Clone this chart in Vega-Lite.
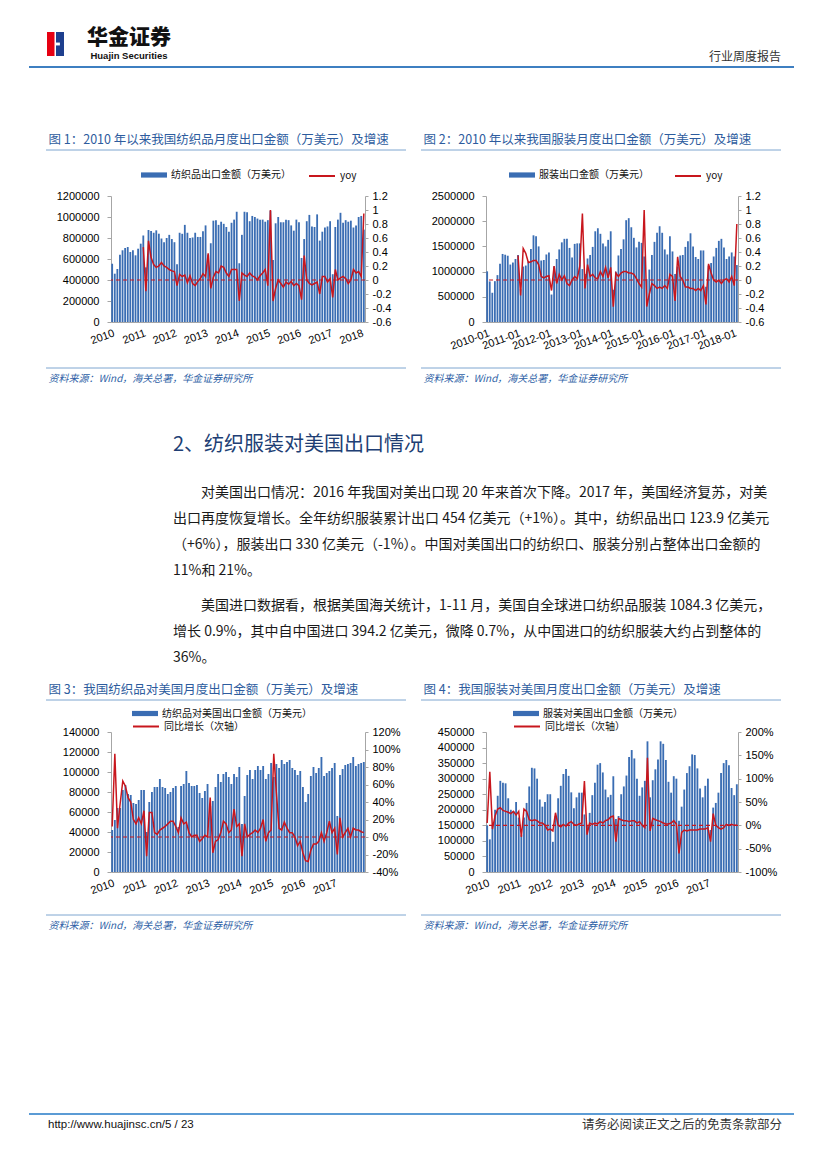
{
"$schema": "https://vega.github.io/schema/vega-lite/v6.json",
"background": "white",
"padding": {"left": 28, "top": 27, "right": 10, "bottom": 10},
"columns": 9,
"spacing": 0,
"bounds": "flush",
"align": "each",
"resolve": {"scale": {"fill": "independent", "stroke": "independent"}, "legend": {"fill": "independent", "stroke": "independent"}},
"datasets": {
"c1": [
{"m":"2010-01","v":555000,"r":null},{"m":"2010-02","v":460000,"r":null},{"m":"2010-03","v":505000,"r":null},{"m":"2010-04","v":641000,"r":null},{"m":"2010-05","v":683000,"r":null},{"m":"2010-06","v":705000,"r":null},{"m":"2010-07","v":714000,"r":null},{"m":"2010-08","v":667000,"r":null},{"m":"2010-09","v":683000,"r":null},{"m":"2010-10","v":635000,"r":null},{"m":"2010-11","v":698000,"r":null},{"m":"2010-12","v":746000,"r":null},
{"m":"2011-01","v":825000,"r":0.47},{"m":"2011-02","v":520000,"r":-0.16},{"m":"2011-03","v":876000,"r":0.56},{"m":"2011-04","v":867000,"r":0.32},{"m":"2011-05","v":850000,"r":0.22},{"m":"2011-06","v":873000,"r":0.18},{"m":"2011-07","v":841000,"r":0.2},{"m":"2011-08","v":795000,"r":0.25},{"m":"2011-09","v":760000,"r":0.2},{"m":"2011-10","v":800000,"r":0.18},{"m":"2011-11","v":830000,"r":0.15},{"m":"2011-12","v":790000,"r":0.13},
{"m":"2012-01","v":760000,"r":0.12},{"m":"2012-02","v":550000,"r":-0.08},{"m":"2012-03","v":850000,"r":0.08},{"m":"2012-04","v":840000,"r":0.05},{"m":"2012-05","v":925000,"r":0.07},{"m":"2012-06","v":850000,"r":-0.04},{"m":"2012-07","v":800000,"r":0.06},{"m":"2012-08","v":805000,"r":-0.05},{"m":"2012-09","v":850000,"r":-0.08},{"m":"2012-10","v":810000,"r":-0.02},{"m":"2012-11","v":810000,"r":0.02},{"m":"2012-12","v":865000,"r":0.09},
{"m":"2013-01","v":920000,"r":0.05},{"m":"2013-02","v":640000,"r":0.38},{"m":"2013-03","v":750000,"r":-0.12},{"m":"2013-04","v":965000,"r":0.04},{"m":"2013-05","v":970000,"r":0.12},{"m":"2013-06","v":925000,"r":0.1},{"m":"2013-07","v":955000,"r":0.2},{"m":"2013-08","v":935000,"r":0.18},{"m":"2013-09","v":905000,"r":0.1},{"m":"2013-10","v":860000,"r":0.05},{"m":"2013-11","v":945000,"r":0.15},{"m":"2013-12","v":975000,"r":0.15},
{"m":"2014-01","v":1050000,"r":0.15},{"m":"2014-02","v":560000,"r":-0.3},{"m":"2014-03","v":830000,"r":0.1},{"m":"2014-04","v":1050000,"r":0.07},{"m":"2014-05","v":1045000,"r":0.05},{"m":"2014-06","v":960000,"r":0.1},{"m":"2014-07","v":1010000,"r":0.06},{"m":"2014-08","v":1000000,"r":0.04},{"m":"2014-09","v":985000,"r":0.0},{"m":"2014-10","v":975000,"r":0.06},{"m":"2014-11","v":975000,"r":0.1},{"m":"2014-12","v":955000,"r":0.15},
{"m":"2015-01","v":970000,"r":-0.08},{"m":"2015-02","v":1060000,"r":1.0},{"m":"2015-03","v":590000,"r":-0.3},{"m":"2015-04","v":940000,"r":-0.12},{"m":"2015-05","v":1000000,"r":0.0},{"m":"2015-06","v":950000,"r":-0.05},{"m":"2015-07","v":950000,"r":-0.1},{"m":"2015-08","v":975000,"r":-0.03},{"m":"2015-09","v":970000,"r":-0.06},{"m":"2015-10","v":920000,"r":-0.02},{"m":"2015-11","v":870000,"r":-0.08},{"m":"2015-12","v":975000,"r":-0.05},
{"m":"2016-01","v":950000,"r":-0.08},{"m":"2016-02","v":610000,"r":-0.28},{"m":"2016-03","v":790000,"r":0.35},{"m":"2016-04","v":960000,"r":0.0},{"m":"2016-05","v":1020000,"r":-0.05},{"m":"2016-06","v":910000,"r":-0.07},{"m":"2016-07","v":905000,"r":-0.05},{"m":"2016-08","v":1025000,"r":-0.03},{"m":"2016-09","v":775000,"r":-0.2},{"m":"2016-10","v":860000,"r":0.05},{"m":"2016-11","v":900000,"r":0.05},{"m":"2016-12","v":910000,"r":-0.03},
{"m":"2017-01","v":960000,"r":0.02},{"m":"2017-02","v":455000,"r":-0.25},{"m":"2017-03","v":905000,"r":0.15},{"m":"2017-04","v":975000,"r":0.0},{"m":"2017-05","v":1040000,"r":0.03},{"m":"2017-06","v":945000,"r":0.05},{"m":"2017-07","v":970000,"r":0.02},{"m":"2017-08","v":955000,"r":-0.05},{"m":"2017-09","v":965000,"r":0.0},{"m":"2017-10","v":900000,"r":0.15},{"m":"2017-11","v":920000,"r":0.1},{"m":"2017-12","v":1000000,"r":0.12},
{"m":"2018-01","v":1010000,"r":0.05},{"m":"2018-02","v":880000,"r":0.95}
],
"c2": [
{"m":"2010-01","v":1005000,"r":null},{"m":"2010-02","v":805000,"r":null},{"m":"2010-03","v":580000,"r":null},{"m":"2010-04","v":810000,"r":null},{"m":"2010-05","v":930000,"r":null},{"m":"2010-06","v":1155000,"r":null},{"m":"2010-07","v":1350000,"r":null},{"m":"2010-08","v":1335000,"r":null},{"m":"2010-09","v":1315000,"r":null},{"m":"2010-10","v":1140000,"r":null},{"m":"2010-11","v":1180000,"r":null},{"m":"2010-12","v":1250000,"r":null},
{"m":"2011-01","v":1330000,"r":0.35},{"m":"2011-02","v":650000,"r":-0.22},{"m":"2011-03","v":1100000,"r":0.45},{"m":"2011-04","v":1120000,"r":0.38},{"m":"2011-05","v":1200000,"r":0.25},{"m":"2011-06","v":1450000,"r":0.26},{"m":"2011-07","v":1720000,"r":0.28},{"m":"2011-08","v":1700000,"r":0.28},{"m":"2011-09","v":1500000,"r":0.22},{"m":"2011-10","v":1220000,"r":0.05},{"m":"2011-11","v":1230000,"r":0.03},{"m":"2011-12","v":1340000,"r":0.05},
{"m":"2012-01","v":1380000,"r":0.06},{"m":"2012-02","v":545000,"r":-0.15},{"m":"2012-03","v":1100000,"r":0.2},{"m":"2012-04","v":1250000,"r":-0.05},{"m":"2012-05","v":1440000,"r":0.08},{"m":"2012-06","v":1580000,"r":0.0},{"m":"2012-07","v":1650000,"r":0.06},{"m":"2012-08","v":1650000,"r":-0.05},{"m":"2012-09","v":1470000,"r":-0.08},{"m":"2012-10","v":1280000,"r":0.0},{"m":"2012-11","v":1550000,"r":0.05},{"m":"2012-12","v":1560000,"r":0.02},
{"m":"2013-01","v":1560000,"r":0.2},{"m":"2013-02","v":1050000,"r":0.95},{"m":"2013-03","v":950000,"r":-0.12},{"m":"2013-04","v":1260000,"r":0.22},{"m":"2013-05","v":1330000,"r":0.05},{"m":"2013-06","v":1490000,"r":0.08},{"m":"2013-07","v":1800000,"r":0.03},{"m":"2013-08","v":1860000,"r":0.02},{"m":"2013-09","v":1750000,"r":0.12},{"m":"2013-10","v":1560000,"r":0.05},{"m":"2013-11","v":1500000,"r":0.18},{"m":"2013-12","v":1630000,"r":0.03},
{"m":"2014-01","v":1800000,"r":0.18},{"m":"2014-02","v":640000,"r":-0.38},{"m":"2014-03","v":1000000,"r":0.1},{"m":"2014-04","v":1320000,"r":0.05},{"m":"2014-05","v":1450000,"r":0.1},{"m":"2014-06","v":1640000,"r":0.12},{"m":"2014-07","v":2020000,"r":0.12},{"m":"2014-08","v":2060000,"r":0.1},{"m":"2014-09","v":1880000,"r":0.1},{"m":"2014-10","v":1670000,"r":0.08},{"m":"2014-11","v":1480000,"r":0.02},{"m":"2014-12","v":1590000,"r":-0.05},
{"m":"2015-01","v":1570000,"r":-0.1},{"m":"2015-02","v":1300000,"r":1.0},{"m":"2015-03","v":850000,"r":-0.38},{"m":"2015-04","v":1040000,"r":-0.2},{"m":"2015-05","v":1330000,"r":-0.05},{"m":"2015-06","v":1590000,"r":-0.08},{"m":"2015-07","v":1770000,"r":-0.12},{"m":"2015-08","v":1900000,"r":-0.1},{"m":"2015-09","v":1770000,"r":-0.12},{"m":"2015-10","v":1440000,"r":-0.08},{"m":"2015-11","v":1340000,"r":-0.12},{"m":"2015-12","v":1700000,"r":0.08},
{"m":"2016-01","v":1400000,"r":0.05},{"m":"2016-02","v":950000,"r":-0.3},{"m":"2016-03","v":1100000,"r":0.33},{"m":"2016-04","v":1320000,"r":0.05},{"m":"2016-05","v":1330000,"r":0.0},{"m":"2016-06","v":1490000,"r":-0.1},{"m":"2016-07","v":1600000,"r":-0.1},{"m":"2016-08","v":1760000,"r":-0.12},{"m":"2016-09","v":1500000,"r":-0.12},{"m":"2016-10","v":1290000,"r":-0.15},{"m":"2016-11","v":1250000,"r":-0.12},{"m":"2016-12","v":1420000,"r":-0.15},
{"m":"2017-01","v":1420000,"r":-0.08},{"m":"2017-02","v":700000,"r":-0.35},{"m":"2017-03","v":1120000,"r":0.23},{"m":"2017-04","v":1170000,"r":0.1},{"m":"2017-05","v":1300000,"r":0.0},{"m":"2017-06","v":1470000,"r":-0.03},{"m":"2017-07","v":1610000,"r":0.0},{"m":"2017-08","v":1650000,"r":-0.05},{"m":"2017-09","v":1480000,"r":0.0},{"m":"2017-10","v":1250000,"r":0.02},{"m":"2017-11","v":1300000,"r":-0.03},{"m":"2017-12","v":1380000,"r":0.05},
{"m":"2018-01","v":1300000,"r":-0.08},{"m":"2018-02","v":1130000,"r":0.8}
],
"c3": [
{"m":"2010-01","v":42000,"r":0.12},{"m":"2010-02","v":52000,"r":0.95},{"m":"2010-03","v":64000,"r":0.1},{"m":"2010-04","v":64000,"r":0.38},{"m":"2010-05","v":82000,"r":0.64},{"m":"2010-06","v":87000,"r":0.58},{"m":"2010-07","v":78000,"r":0.45},{"m":"2010-08","v":77000,"r":0.4},{"m":"2010-09","v":69000,"r":0.2},{"m":"2010-10","v":68000,"r":0.15},{"m":"2010-11","v":72000,"r":0.22},{"m":"2010-12","v":82000,"r":0.15},
{"m":"2011-01","v":82000,"r":0.3},{"m":"2011-02","v":40000,"r":-0.22},{"m":"2011-03","v":70000,"r":0.28},{"m":"2011-04","v":80000,"r":0.28},{"m":"2011-05","v":85000,"r":0.05},{"m":"2011-06","v":85000,"r":0.03},{"m":"2011-07","v":93000,"r":0.08},{"m":"2011-08","v":85000,"r":0.1},{"m":"2011-09","v":84000,"r":0.12},{"m":"2011-10","v":78000,"r":0.15},{"m":"2011-11","v":80000,"r":0.18},{"m":"2011-12","v":84000,"r":0.18},
{"m":"2012-01","v":86000,"r":0.12},{"m":"2012-02","v":45000,"r":0.05},{"m":"2012-03","v":86000,"r":0.22},{"m":"2012-04","v":88000,"r":0.15},{"m":"2012-05","v":101000,"r":0.17},{"m":"2012-06","v":89000,"r":0.05},{"m":"2012-07","v":86000,"r":0.0},{"m":"2012-08","v":86000,"r":0.02},{"m":"2012-09","v":87000,"r":0.02},{"m":"2012-10","v":79000,"r":-0.05},{"m":"2012-11","v":74000,"r":-0.02},{"m":"2012-12","v":81000,"r":0.02},
{"m":"2013-01","v":88000,"r":0.0},{"m":"2013-02","v":66000,"r":0.45},{"m":"2013-03","v":71000,"r":-0.18},{"m":"2013-04","v":85000,"r":-0.05},{"m":"2013-05","v":98000,"r":-0.03},{"m":"2013-06","v":90000,"r":0.05},{"m":"2013-07","v":98000,"r":0.18},{"m":"2013-08","v":100000,"r":0.15},{"m":"2013-09","v":95000,"r":0.05},{"m":"2013-10","v":88000,"r":0.08},{"m":"2013-11","v":98000,"r":0.32},{"m":"2013-12","v":95000,"r":0.12},
{"m":"2014-01","v":105000,"r":0.15},{"m":"2014-02","v":48000,"r":-0.22},{"m":"2014-03","v":76000,"r":0.15},{"m":"2014-04","v":97000,"r":0.0},{"m":"2014-05","v":102000,"r":0.03},{"m":"2014-06","v":93000,"r":0.05},{"m":"2014-07","v":102000,"r":0.08},{"m":"2014-08","v":106000,"r":0.05},{"m":"2014-09","v":102000,"r":0.1},{"m":"2014-10","v":106000,"r":0.2},{"m":"2014-11","v":93000,"r":-0.05},{"m":"2014-12","v":98000,"r":0.05},
{"m":"2015-01","v":109000,"r":0.08},{"m":"2015-02","v":95000,"r":0.95},{"m":"2015-03","v":108000,"r":0.5},{"m":"2015-04","v":104000,"r":0.1},{"m":"2015-05","v":112000,"r":0.08},{"m":"2015-06","v":108000,"r":0.17},{"m":"2015-07","v":110000,"r":0.1},{"m":"2015-08","v":112000,"r":0.05},{"m":"2015-09","v":104000,"r":0.05},{"m":"2015-10","v":102000,"r":0.0},{"m":"2015-11","v":97000,"r":-0.1},{"m":"2015-12","v":101000,"r":-0.05},
{"m":"2016-01","v":85000,"r":-0.18},{"m":"2016-02","v":70000,"r":-0.27},{"m":"2016-03","v":78000,"r":-0.28},{"m":"2016-04","v":96000,"r":-0.15},{"m":"2016-05","v":105000,"r":-0.08},{"m":"2016-06","v":99000,"r":-0.08},{"m":"2016-07","v":104000,"r":-0.05},{"m":"2016-08","v":115000,"r":0.05},{"m":"2016-09","v":96000,"r":-0.05},{"m":"2016-10","v":99000,"r":0.05},{"m":"2016-11","v":101000,"r":0.18},{"m":"2016-12","v":104000,"r":0.05},
{"m":"2017-01","v":109000,"r":0.1},{"m":"2017-02","v":56000,"r":-0.2},{"m":"2017-03","v":97000,"r":0.22},{"m":"2017-04","v":103000,"r":0.0},{"m":"2017-05","v":107000,"r":0.05},{"m":"2017-06","v":108000,"r":0.1},{"m":"2017-07","v":109000,"r":0.0},{"m":"2017-08","v":115000,"r":0.1},{"m":"2017-09","v":106000,"r":0.08},{"m":"2017-10","v":108000,"r":0.08},{"m":"2017-11","v":109000,"r":0.06},{"m":"2017-12","v":110000,"r":0.05}
],
"c4": [
{"m":"2010-01","v":150000,"r":0.05},{"m":"2010-02","v":105000,"r":1.15},{"m":"2010-03","v":150000,"r":-0.08},{"m":"2010-04","v":200000,"r":0.2},{"m":"2010-05","v":245000,"r":0.35},{"m":"2010-06","v":293000,"r":0.38},{"m":"2010-07","v":287000,"r":0.32},{"m":"2010-08","v":285000,"r":0.3},{"m":"2010-09","v":237000,"r":0.28},{"m":"2010-10","v":200000,"r":0.25},{"m":"2010-11","v":195000,"r":0.3},{"m":"2010-12","v":225000,"r":0.22},
{"m":"2011-01","v":175000,"r":0.3},{"m":"2011-02","v":120000,"r":-0.25},{"m":"2011-03","v":175000,"r":0.35},{"m":"2011-04","v":222000,"r":0.3},{"m":"2011-05","v":275000,"r":0.12},{"m":"2011-06","v":335000,"r":0.1},{"m":"2011-07","v":333000,"r":0.12},{"m":"2011-08","v":300000,"r":0.1},{"m":"2011-09","v":233000,"r":0.05},{"m":"2011-10","v":210000,"r":0.05},{"m":"2011-11","v":225000,"r":0.0},{"m":"2011-12","v":250000,"r":-0.1},
{"m":"2012-01","v":250000,"r":-0.08},{"m":"2012-02","v":97000,"r":-0.12},{"m":"2012-03","v":180000,"r":0.27},{"m":"2012-04","v":237000,"r":0.0},{"m":"2012-05","v":277000,"r":-0.03},{"m":"2012-06","v":315000,"r":0.02},{"m":"2012-07","v":331000,"r":-0.02},{"m":"2012-08","v":309000,"r":0.05},{"m":"2012-09","v":256000,"r":0.08},{"m":"2012-10","v":205000,"r":0.02},{"m":"2012-11","v":240000,"r":0.0},{"m":"2012-12","v":255000,"r":0.03},
{"m":"2013-01","v":255000,"r":0.05},{"m":"2013-02","v":185000,"r":0.95},{"m":"2013-03","v":150000,"r":-0.2},{"m":"2013-04","v":190000,"r":0.05},{"m":"2013-05","v":247000,"r":0.02},{"m":"2013-06","v":287000,"r":0.05},{"m":"2013-07","v":345000,"r":0.03},{"m":"2013-08","v":350000,"r":0.08},{"m":"2013-09","v":320000,"r":0.05},{"m":"2013-10","v":265000,"r":0.1},{"m":"2013-11","v":240000,"r":0.12},{"m":"2013-12","v":248000,"r":0.18},
{"m":"2014-01","v":308000,"r":0.2},{"m":"2014-02","v":170000,"r":-0.35},{"m":"2014-03","v":180000,"r":0.15},{"m":"2014-04","v":250000,"r":0.12},{"m":"2014-05","v":275000,"r":0.1},{"m":"2014-06","v":310000,"r":0.1},{"m":"2014-07","v":370000,"r":0.08},{"m":"2014-08","v":392000,"r":0.1},{"m":"2014-09","v":365000,"r":0.1},{"m":"2014-10","v":300000,"r":0.05},{"m":"2014-11","v":245000,"r":0.08},{"m":"2014-12","v":272000,"r":0.0},
{"m":"2015-01","v":293000,"r":-0.05},{"m":"2015-02","v":420000,"r":1.45},{"m":"2015-03","v":240000,"r":-0.12},{"m":"2015-04","v":295000,"r":0.15},{"m":"2015-05","v":330000,"r":0.12},{"m":"2015-06","v":362000,"r":0.1},{"m":"2015-07","v":420000,"r":0.08},{"m":"2015-08","v":412000,"r":0.05},{"m":"2015-09","v":360000,"r":0.03},{"m":"2015-10","v":290000,"r":0.03},{"m":"2015-11","v":255000,"r":0.05},{"m":"2015-12","v":308000,"r":0.1},
{"m":"2016-01","v":300000,"r":0.03},{"m":"2016-02","v":165000,"r":-0.6},{"m":"2016-03","v":210000,"r":-0.15},{"m":"2016-04","v":265000,"r":-0.1},{"m":"2016-05","v":318000,"r":-0.12},{"m":"2016-06","v":340000,"r":-0.1},{"m":"2016-07","v":378000,"r":-0.1},{"m":"2016-08","v":376000,"r":-0.1},{"m":"2016-09","v":333000,"r":-0.1},{"m":"2016-10","v":268000,"r":-0.08},{"m":"2016-11","v":240000,"r":-0.08},{"m":"2016-12","v":277000,"r":-0.08},
{"m":"2017-01","v":300000,"r":-0.05},{"m":"2017-02","v":135000,"r":-0.35},{"m":"2017-03","v":207000,"r":0.25},{"m":"2017-04","v":222000,"r":0.0},{"m":"2017-05","v":255000,"r":-0.05},{"m":"2017-06","v":318000,"r":-0.08},{"m":"2017-07","v":350000,"r":-0.05},{"m":"2017-08","v":360000,"r":0.02},{"m":"2017-09","v":343000,"r":0.0},{"m":"2017-10","v":270000,"r":0.02},{"m":"2017-11","v":247000,"r":0.0},{"m":"2017-12","v":282000,"r":0.0}
]
},
"concat": [
  {"width": 1, "height": 1, "data": {"values": []}, "mark": "point"},
  {"width": 65, "height": 28, "data": {"values": [{"k": 1}]}, "layer": [
    {"mark": {"type": "point", "shape": "M-2.625,-1H-2.0V1H-2.625Z", "filled": true, "color": "#E60012", "size": 576, "opacity": 1, "strokeWidth": 0}, "encoding": {}},
    {"mark": {"type": "point", "shape": "M-1.875,-1H-1.208V1H-1.875Z", "filled": true, "color": "#1E3F8E", "size": 576, "opacity": 1, "strokeWidth": 0}, "encoding": {}},
    {"mark": {"type": "point", "shape": "M-1.875,-0.12H-1.55V0.12H-1.875Z", "filled": true, "color": "#FFFFFF", "size": 576, "opacity": 1, "strokeWidth": 0}, "encoding": {}}
  ]},
  {"width": 254, "height": 28, "data": {"values": [{"k": 1}]}, "layer": [
    {"mark": {"type": "text", "text": "华金证券", "font": "Noto Sans CJK SC", "fontSize": 21, "fontWeight": 900, "color": "#111111", "align": "center", "baseline": "middle", "dx": -109, "dy": -6}, "encoding": {}},
    {"mark": {"type": "text", "text": "Huajin Securities", "font": "Liberation Sans", "fontSize": 9.5, "fontWeight": "bold", "color": "#111111", "align": "center", "baseline": "middle", "dx": -109, "dy": 11.5}, "encoding": {}}
  ]},
  {"width": 1, "height": 1, "data": {"values": []}, "mark": "point"},
  {"width": 1, "height": 1, "data": {"values": []}, "mark": "point"},
  {"width": 1, "height": 1, "data": {"values": []}, "mark": "point"},
  {"width": 1, "height": 1, "data": {"values": []}, "mark": "point"},
  {"width": 43, "height": 28, "data": {"values": [{"k": 1}]}, "mark": {"type": "text", "text": "行业周度报告", "fontSize": 12, "color": "#333333", "align": "right", "baseline": "middle", "dx": 21.5, "dy": 13}, "encoding": {}},
  {"width": 1, "height": 1, "data": {"values": []}, "mark": "point"},

  {"width": 17, "height": 9, "data": {"values": [{"k": 1}]}, "mark": {"type": "rule", "color": "#3E7FC1", "strokeWidth": 2}, "encoding": {"y": {"datum": 0, "type": "quantitative", "scale": {"domain": [0, 1]}, "axis": null}}},
  {"width": 65, "height": 9, "data": {"values": [{"k": 1}]}, "mark": {"type": "rule", "color": "#3E7FC1", "strokeWidth": 2}, "encoding": {"y": {"datum": 0, "type": "quantitative", "scale": {"domain": [0, 1]}, "axis": null}}},
  {"width": 254, "height": 9, "data": {"values": [{"k": 1}]}, "mark": {"type": "rule", "color": "#3E7FC1", "strokeWidth": 2}, "encoding": {"y": {"datum": 0, "type": "quantitative", "scale": {"domain": [0, 1]}, "axis": null}}},
  {"width": 41, "height": 9, "data": {"values": [{"k": 1}]}, "mark": {"type": "rule", "color": "#3E7FC1", "strokeWidth": 2}, "encoding": {"y": {"datum": 0, "type": "quantitative", "scale": {"domain": [0, 1]}, "axis": null}}},
  {"width": 15, "height": 9, "data": {"values": [{"k": 1}]}, "mark": {"type": "rule", "color": "#3E7FC1", "strokeWidth": 2}, "encoding": {"y": {"datum": 0, "type": "quantitative", "scale": {"domain": [0, 1]}, "axis": null}}},
  {"width": 65, "height": 9, "data": {"values": [{"k": 1}]}, "mark": {"type": "rule", "color": "#3E7FC1", "strokeWidth": 2}, "encoding": {"y": {"datum": 0, "type": "quantitative", "scale": {"domain": [0, 1]}, "axis": null}}},
  {"width": 252, "height": 9, "data": {"values": [{"k": 1}]}, "mark": {"type": "rule", "color": "#3E7FC1", "strokeWidth": 2}, "encoding": {"y": {"datum": 0, "type": "quantitative", "scale": {"domain": [0, 1]}, "axis": null}}},
  {"width": 43, "height": 9, "data": {"values": [{"k": 1}]}, "mark": {"type": "rule", "color": "#3E7FC1", "strokeWidth": 2}, "encoding": {"y": {"datum": 0, "type": "quantitative", "scale": {"domain": [0, 1]}, "axis": null}}},
  {"width": 13, "height": 9, "data": {"values": [{"k": 1}]}, "mark": {"type": "rule", "color": "#3E7FC1", "strokeWidth": 2}, "encoding": {"y": {"datum": 0, "type": "quantitative", "scale": {"domain": [0, 1]}, "axis": null}}},

  {"width": 1, "height": 81, "data": {"values": []}, "mark": "point"},
  {"width": 1, "height": 1, "data": {"values": []}, "mark": "point"},
  {"width": 1, "height": 1, "data": {"values": []}, "mark": "point"},
  {"width": 1, "height": 1, "data": {"values": []}, "mark": "point"},
  {"width": 1, "height": 1, "data": {"values": []}, "mark": "point"},
  {"width": 1, "height": 1, "data": {"values": []}, "mark": "point"},
  {"width": 1, "height": 1, "data": {"values": []}, "mark": "point"},
  {"width": 1, "height": 1, "data": {"values": []}, "mark": "point"},
  {"width": 1, "height": 1, "data": {"values": []}, "mark": "point"},

  {"width": 1, "height": 1, "data": {"values": []}, "mark": "point"},
  {"width": 65, "height": 2, "data": {"values": [{"k": 1}]}, "mark": {"type": "rule", "color": "#7FA6D0", "strokeWidth": 1}, "encoding": {"y": {"datum": 0, "type": "quantitative", "scale": {"domain": [0, 1]}, "axis": null}},
   "title": {"text": "图 1：2010 年以来我国纺织品月度出口金额（万美元）及增速", "anchor": "start", "dx": 3, "offset": 2, "fontSize": 12.5, "fontWeight": "normal", "color": "#2D5C9E", "font": "Noto Sans CJK SC", "limit": 0}},
  {"width": 254, "height": 2, "data": {"values": [{"k": 1}]}, "mark": {"type": "rule", "color": "#7FA6D0", "strokeWidth": 1}, "encoding": {"y": {"datum": 0, "type": "quantitative", "scale": {"domain": [0, 1]}, "axis": null}}},
  {"width": 41, "height": 2, "data": {"values": [{"k": 1}]}, "mark": {"type": "rule", "color": "#7FA6D0", "strokeWidth": 1}, "encoding": {"y": {"datum": 0, "type": "quantitative", "scale": {"domain": [0, 1]}, "axis": null}}},
  {"width": 1, "height": 1, "data": {"values": []}, "mark": "point"},
  {"width": 65, "height": 2, "data": {"values": [{"k": 1}]}, "mark": {"type": "rule", "color": "#7FA6D0", "strokeWidth": 1}, "encoding": {"y": {"datum": 0, "type": "quantitative", "scale": {"domain": [0, 1]}, "axis": null}},
   "title": {"text": "图 2：2010 年以来我国服装月度出口金额（万美元）及增速", "anchor": "start", "dx": 3, "offset": 2, "fontSize": 12.5, "fontWeight": "normal", "color": "#2D5C9E", "font": "Noto Sans CJK SC", "limit": 0}},
  {"width": 252, "height": 2, "data": {"values": [{"k": 1}]}, "mark": {"type": "rule", "color": "#7FA6D0", "strokeWidth": 1}, "encoding": {"y": {"datum": 0, "type": "quantitative", "scale": {"domain": [0, 1]}, "axis": null}}},
  {"width": 43, "height": 2, "data": {"values": [{"k": 1}]}, "mark": {"type": "rule", "color": "#7FA6D0", "strokeWidth": 1}, "encoding": {"y": {"datum": 0, "type": "quantitative", "scale": {"domain": [0, 1]}, "axis": null}}},
  {"width": 1, "height": 1, "data": {"values": []}, "mark": "point"},

  {"width": 1, "height": 46, "data": {"values": []}, "mark": "point"},
  {"width": 1, "height": 1, "data": {"values": []}, "mark": "point"},
  {"width": 1, "height": 1, "data": {"values": []}, "mark": "point"},
  {"width": 1, "height": 1, "data": {"values": []}, "mark": "point"},
  {"width": 1, "height": 1, "data": {"values": []}, "mark": "point"},
  {"width": 1, "height": 1, "data": {"values": []}, "mark": "point"},
  {"width": 1, "height": 1, "data": {"values": []}, "mark": "point"},
  {"width": 1, "height": 1, "data": {"values": []}, "mark": "point"},
  {"width": 1, "height": 1, "data": {"values": []}, "mark": "point"},

  {"width": 1, "height": 1, "data": {"values": []}, "mark": "point"},
  {"width": 1, "height": 1, "data": {"values": []}, "mark": "point"},
  {"width": 254, "height": 126, "data": {"name": "c1"},
   "layer": [
    {"mark": {"type": "bar"},
     "encoding": {
      "x": {"field": "m", "type": "ordinal", "scale": {"paddingInner": 0.3, "paddingOuter": 0.1}, "axis": {"title": null, "labelExpr": "substring(datum.value,5,7)=='01' ? substring(datum.value,0,4) : ''", "labelAngle": -20, "labelAlign": "right", "labelBaseline": "top", "ticks": false, "labelOverlap": false, "labelPadding": 5}},
      "y": {"field": "v", "type": "quantitative", "scale": {"domain": [0, 1200000]}, "axis": {"orient": "left", "values": [0, 200000, 400000, 600000, 800000, 1000000, 1200000], "format": "d", "title": null, "tickSize": 4, "labelPadding": 8, "labelOverlap": false}},
      "fill": {"datum": "纺织品出口金额（万美元）", "type": "nominal", "scale": {"range": ["#3A6DB3"]}, "legend": {"title": null, "orient": "none", "legendX": 30, "legendY": -34, "symbolType": "M-1,-0.2H1V0.2H-1Z", "symbolSize": 676, "symbolStrokeWidth": 0}}
     }},
    {"layer": [
      {"mark": {"type": "line", "strokeWidth": 1.5},
       "encoding": {
        "x": {"field": "m", "type": "ordinal"},
        "y": {"field": "r", "type": "quantitative", "scale": {"domain": [-0.6, 1.2]}, "axis": {"orient": "right", "values": [-0.6, -0.4, -0.2, 0, 0.2, 0.4, 0.6, 0.8, 1, 1.2], "format": "~g", "title": null, "tickSize": 3, "labelPadding": 4, "labelOverlap": false, "labelFlush": false}},
        "stroke": {"datum": "yoy", "type": "nominal", "scale": {"range": ["#C8161D"]}, "legend": {"title": null, "orient": "none", "legendX": 197, "legendY": -34, "symbolType": "stroke", "symbolSize": 676, "symbolStrokeWidth": 2}}
       }},
      {"data": {"values": [{"k": 1}]}, "mark": {"type": "rule", "color": "#C8161D", "strokeDash": [4, 3], "strokeWidth": 1.2}, "encoding": {"y": {"datum": 0, "type": "quantitative", "axis": null}}}
    ], "resolve": {"axis": {"y": "independent"}}}
   ],
   "resolve": {"scale": {"y": "independent"}}},
  {"width": 1, "height": 1, "data": {"values": []}, "mark": "point"},
  {"width": 1, "height": 1, "data": {"values": []}, "mark": "point"},
  {"width": 1, "height": 1, "data": {"values": []}, "mark": "point"},
  {"width": 252, "height": 126, "data": {"name": "c2"},
   "layer": [
    {"mark": {"type": "bar"},
     "encoding": {
      "x": {"field": "m", "type": "ordinal", "scale": {"paddingInner": 0.3, "paddingOuter": 0.1}, "axis": {"title": null, "labelExpr": "substring(datum.value,5,7)=='01' ? datum.value : ''", "labelAngle": -20, "labelAlign": "right", "labelBaseline": "top", "ticks": false, "labelOverlap": false, "labelPadding": 5}},
      "y": {"field": "v", "type": "quantitative", "scale": {"domain": [0, 2500000]}, "axis": {"orient": "left", "values": [0, 500000, 1000000, 1500000, 2000000, 2500000], "format": "d", "title": null, "tickSize": 4, "labelPadding": 8, "labelOverlap": false}},
      "fill": {"datum": "服装出口金额（万美元）", "type": "nominal", "scale": {"range": ["#3A6DB3"]}, "legend": {"title": null, "orient": "none", "legendX": 23, "legendY": -34, "symbolType": "M-1,-0.2H1V0.2H-1Z", "symbolSize": 676, "symbolStrokeWidth": 0}}
     }},
    {"layer": [
      {"mark": {"type": "line", "strokeWidth": 1.5},
       "encoding": {
        "x": {"field": "m", "type": "ordinal"},
        "y": {"field": "r", "type": "quantitative", "scale": {"domain": [-0.6, 1.2]}, "axis": {"orient": "right", "values": [-0.6, -0.4, -0.2, 0, 0.2, 0.4, 0.6, 0.8, 1, 1.2], "format": "~g", "title": null, "tickSize": 3, "labelPadding": 4, "labelOverlap": false, "labelFlush": false}},
        "stroke": {"datum": "yoy", "type": "nominal", "scale": {"range": ["#C8161D"]}, "legend": {"title": null, "orient": "none", "legendX": 188, "legendY": -34, "symbolType": "stroke", "symbolSize": 676, "symbolStrokeWidth": 2}}
       }},
      {"data": {"values": [{"k": 1}]}, "mark": {"type": "rule", "color": "#C8161D", "strokeDash": [4, 3], "strokeWidth": 1.2}, "encoding": {"y": {"datum": 0, "type": "quantitative", "axis": null}}}
    ], "resolve": {"axis": {"y": "independent"}}}
   ],
   "resolve": {"scale": {"y": "independent"}}},
  {"width": 1, "height": 1, "data": {"values": []}, "mark": "point"},
  {"width": 1, "height": 1, "data": {"values": []}, "mark": "point"},

  {"width": 1, "height": 46, "data": {"values": []}, "mark": "point"},
  {"width": 1, "height": 1, "data": {"values": []}, "mark": "point"},
  {"width": 1, "height": 1, "data": {"values": []}, "mark": "point"},
  {"width": 1, "height": 1, "data": {"values": []}, "mark": "point"},
  {"width": 1, "height": 1, "data": {"values": []}, "mark": "point"},
  {"width": 1, "height": 1, "data": {"values": []}, "mark": "point"},
  {"width": 1, "height": 1, "data": {"values": []}, "mark": "point"},
  {"width": 1, "height": 1, "data": {"values": []}, "mark": "point"},
  {"width": 1, "height": 1, "data": {"values": []}, "mark": "point"},

  {"width": 1, "height": 1, "data": {"values": []}, "mark": "point"},
  {"width": 65, "height": 2, "data": {"values": [{"k": 1}]}, "mark": {"type": "rule", "color": "#7FA6D0", "strokeWidth": 1}, "encoding": {"y": {"datum": 1, "type": "quantitative", "scale": {"domain": [0, 1]}, "axis": null}},
   "title": {"text": "资料来源：Wind，海关总署，华金证券研究所", "orient": "bottom", "anchor": "start", "dx": 3, "offset": 4, "fontSize": 10, "fontStyle": "italic", "fontWeight": "normal", "color": "#2E5FA6", "font": "Noto Sans CJK SC", "limit": 0}},
  {"width": 254, "height": 2, "data": {"values": [{"k": 1}]}, "mark": {"type": "rule", "color": "#7FA6D0", "strokeWidth": 1}, "encoding": {"y": {"datum": 1, "type": "quantitative", "scale": {"domain": [0, 1]}, "axis": null}}},
  {"width": 41, "height": 2, "data": {"values": [{"k": 1}]}, "mark": {"type": "rule", "color": "#7FA6D0", "strokeWidth": 1}, "encoding": {"y": {"datum": 1, "type": "quantitative", "scale": {"domain": [0, 1]}, "axis": null}}},
  {"width": 1, "height": 1, "data": {"values": []}, "mark": "point"},
  {"width": 65, "height": 2, "data": {"values": [{"k": 1}]}, "mark": {"type": "rule", "color": "#7FA6D0", "strokeWidth": 1}, "encoding": {"y": {"datum": 1, "type": "quantitative", "scale": {"domain": [0, 1]}, "axis": null}},
   "title": {"text": "资料来源：Wind，海关总署，华金证券研究所", "orient": "bottom", "anchor": "start", "dx": 3, "offset": 4, "fontSize": 10, "fontStyle": "italic", "fontWeight": "normal", "color": "#2E5FA6", "font": "Noto Sans CJK SC", "limit": 0}},
  {"width": 252, "height": 2, "data": {"values": [{"k": 1}]}, "mark": {"type": "rule", "color": "#7FA6D0", "strokeWidth": 1}, "encoding": {"y": {"datum": 1, "type": "quantitative", "scale": {"domain": [0, 1]}, "axis": null}}},
  {"width": 43, "height": 2, "data": {"values": [{"k": 1}]}, "mark": {"type": "rule", "color": "#7FA6D0", "strokeWidth": 1}, "encoding": {"y": {"datum": 1, "type": "quantitative", "scale": {"domain": [0, 1]}, "axis": null}}},
  {"width": 1, "height": 1, "data": {"values": []}, "mark": "point"},

  {"width": 1, "height": 64, "data": {"values": []}, "mark": "point"},
  {"width": 1, "height": 1, "data": {"values": []}, "mark": "point"},
  {"width": 1, "height": 1, "data": {"values": []}, "mark": "point"},
  {"width": 1, "height": 1, "data": {"values": []}, "mark": "point"},
  {"width": 1, "height": 1, "data": {"values": []}, "mark": "point"},
  {"width": 1, "height": 1, "data": {"values": []}, "mark": "point"},
  {"width": 1, "height": 1, "data": {"values": []}, "mark": "point"},
  {"width": 1, "height": 1, "data": {"values": []}, "mark": "point"},
  {"width": 1, "height": 1, "data": {"values": []}, "mark": "point"},

  {"width": 1, "height": 1, "data": {"values": []}, "mark": "point"},
  {"width": 1, "height": 1, "data": {"values": []}, "mark": "point"},
  {"width": 254, "height": 22, "data": {"values": [{"t": "2、纺织服装对美国出口情况"}]}, "mark": {"type": "text", "align": "left", "baseline": "middle", "fontSize": 20, "color": "#203E74", "font": "Noto Sans CJK SC", "dx": -65}, "encoding": {"text": {"field": "t"}}},
  {"width": 1, "height": 1, "data": {"values": []}, "mark": "point"},
  {"width": 1, "height": 1, "data": {"values": []}, "mark": "point"},
  {"width": 1, "height": 1, "data": {"values": []}, "mark": "point"},
  {"width": 1, "height": 1, "data": {"values": []}, "mark": "point"},
  {"width": 1, "height": 1, "data": {"values": []}, "mark": "point"},
  {"width": 1, "height": 1, "data": {"values": []}, "mark": "point"},

  {"width": 1, "height": 24, "data": {"values": []}, "mark": "point"},
  {"width": 1, "height": 1, "data": {"values": []}, "mark": "point"},
  {"width": 1, "height": 1, "data": {"values": []}, "mark": "point"},
  {"width": 1, "height": 1, "data": {"values": []}, "mark": "point"},
  {"width": 1, "height": 1, "data": {"values": []}, "mark": "point"},
  {"width": 1, "height": 1, "data": {"values": []}, "mark": "point"},
  {"width": 1, "height": 1, "data": {"values": []}, "mark": "point"},
  {"width": 1, "height": 1, "data": {"values": []}, "mark": "point"},
  {"width": 1, "height": 1, "data": {"values": []}, "mark": "point"},

  {"width": 1, "height": 1, "data": {"values": []}, "mark": "point"},
  {"width": 1, "height": 1, "data": {"values": []}, "mark": "point"},
  {"width": 254, "height": 104, "data": {"values": [
    {"line": 1, "text": "对美国出口情况：2016 年我国对美出口现 20 年来首次下降。2017 年，美国经济复苏，对美"},
    {"line": 2, "text": "出口再度恢复增长。全年纺织服装累计出口 454 亿美元（+1%）。其中，纺织品出口 123.9 亿美元"},
    {"line": 3, "text": "（+6%），服装出口 330 亿美元（-1%）。中国对美国出口的纺织口、服装分别占整体出口金额的"},
    {"line": 4, "text": "11%和 21%。"}
   ]},
   "encoding": {"y": {"field": "line", "type": "ordinal", "scale": {"type": "point", "padding": 0.5, "domain": [1, 2, 3, 4]}, "axis": null}, "text": {"field": "text"}},
   "layer": [
    {"transform": [{"filter": "datum.line == 1"}], "mark": {"type": "text", "align": "left", "baseline": "middle", "fontSize": 14, "color": "#1A1A1A", "font": "Noto Sans CJK SC", "dx": -37}},
    {"transform": [{"filter": "datum.line > 1"}], "mark": {"type": "text", "align": "left", "baseline": "middle", "fontSize": 14, "color": "#1A1A1A", "font": "Noto Sans CJK SC", "dx": -65}}
   ]},
  {"width": 1, "height": 1, "data": {"values": []}, "mark": "point"},
  {"width": 1, "height": 1, "data": {"values": []}, "mark": "point"},
  {"width": 1, "height": 1, "data": {"values": []}, "mark": "point"},
  {"width": 1, "height": 1, "data": {"values": []}, "mark": "point"},
  {"width": 1, "height": 1, "data": {"values": []}, "mark": "point"},
  {"width": 1, "height": 1, "data": {"values": []}, "mark": "point"},

  {"width": 1, "height": 9, "data": {"values": []}, "mark": "point"},
  {"width": 1, "height": 1, "data": {"values": []}, "mark": "point"},
  {"width": 1, "height": 1, "data": {"values": []}, "mark": "point"},
  {"width": 1, "height": 1, "data": {"values": []}, "mark": "point"},
  {"width": 1, "height": 1, "data": {"values": []}, "mark": "point"},
  {"width": 1, "height": 1, "data": {"values": []}, "mark": "point"},
  {"width": 1, "height": 1, "data": {"values": []}, "mark": "point"},
  {"width": 1, "height": 1, "data": {"values": []}, "mark": "point"},
  {"width": 1, "height": 1, "data": {"values": []}, "mark": "point"},

  {"width": 1, "height": 1, "data": {"values": []}, "mark": "point"},
  {"width": 1, "height": 1, "data": {"values": []}, "mark": "point"},
  {"width": 254, "height": 78, "data": {"values": [
    {"line": 1, "text": "美国进口数据看，根据美国海关统计，1-11 月，美国自全球进口纺织品服装 1084.3 亿美元，"},
    {"line": 2, "text": "增长 0.9%，其中自中国进口 394.2 亿美元，微降 0.7%，从中国进口的纺织服装大约占到整体的"},
    {"line": 3, "text": "36%。"}
   ]},
   "encoding": {"y": {"field": "line", "type": "ordinal", "scale": {"type": "point", "padding": 0.5, "domain": [1, 2, 3]}, "axis": null}, "text": {"field": "text"}},
   "layer": [
    {"transform": [{"filter": "datum.line == 1"}], "mark": {"type": "text", "align": "left", "baseline": "middle", "fontSize": 14, "color": "#1A1A1A", "font": "Noto Sans CJK SC", "dx": -37}},
    {"transform": [{"filter": "datum.line > 1"}], "mark": {"type": "text", "align": "left", "baseline": "middle", "fontSize": 14, "color": "#1A1A1A", "font": "Noto Sans CJK SC", "dx": -65}}
   ]},
  {"width": 1, "height": 1, "data": {"values": []}, "mark": "point"},
  {"width": 1, "height": 1, "data": {"values": []}, "mark": "point"},
  {"width": 1, "height": 1, "data": {"values": []}, "mark": "point"},
  {"width": 1, "height": 1, "data": {"values": []}, "mark": "point"},
  {"width": 1, "height": 1, "data": {"values": []}, "mark": "point"},
  {"width": 1, "height": 1, "data": {"values": []}, "mark": "point"},

  {"width": 1, "height": 27, "data": {"values": []}, "mark": "point"},
  {"width": 1, "height": 1, "data": {"values": []}, "mark": "point"},
  {"width": 1, "height": 1, "data": {"values": []}, "mark": "point"},
  {"width": 1, "height": 1, "data": {"values": []}, "mark": "point"},
  {"width": 1, "height": 1, "data": {"values": []}, "mark": "point"},
  {"width": 1, "height": 1, "data": {"values": []}, "mark": "point"},
  {"width": 1, "height": 1, "data": {"values": []}, "mark": "point"},
  {"width": 1, "height": 1, "data": {"values": []}, "mark": "point"},
  {"width": 1, "height": 1, "data": {"values": []}, "mark": "point"},

  {"width": 1, "height": 1, "data": {"values": []}, "mark": "point"},
  {"width": 65, "height": 2, "data": {"values": [{"k": 1}]}, "mark": {"type": "rule", "color": "#7FA6D0", "strokeWidth": 1}, "encoding": {"y": {"datum": 0, "type": "quantitative", "scale": {"domain": [0, 1]}, "axis": null}},
   "title": {"text": "图 3：我国纺织品对美国月度出口金额（万美元）及增速", "anchor": "start", "dx": 3, "offset": 2, "fontSize": 12.5, "fontWeight": "normal", "color": "#2D5C9E", "font": "Noto Sans CJK SC", "limit": 0}},
  {"width": 254, "height": 2, "data": {"values": [{"k": 1}]}, "mark": {"type": "rule", "color": "#7FA6D0", "strokeWidth": 1}, "encoding": {"y": {"datum": 0, "type": "quantitative", "scale": {"domain": [0, 1]}, "axis": null}}},
  {"width": 41, "height": 2, "data": {"values": [{"k": 1}]}, "mark": {"type": "rule", "color": "#7FA6D0", "strokeWidth": 1}, "encoding": {"y": {"datum": 0, "type": "quantitative", "scale": {"domain": [0, 1]}, "axis": null}}},
  {"width": 1, "height": 1, "data": {"values": []}, "mark": "point"},
  {"width": 65, "height": 2, "data": {"values": [{"k": 1}]}, "mark": {"type": "rule", "color": "#7FA6D0", "strokeWidth": 1}, "encoding": {"y": {"datum": 0, "type": "quantitative", "scale": {"domain": [0, 1]}, "axis": null}},
   "title": {"text": "图 4：我国服装对美国月度出口金额（万美元）及增速", "anchor": "start", "dx": 3, "offset": 2, "fontSize": 12.5, "fontWeight": "normal", "color": "#2D5C9E", "font": "Noto Sans CJK SC", "limit": 0}},
  {"width": 252, "height": 2, "data": {"values": [{"k": 1}]}, "mark": {"type": "rule", "color": "#7FA6D0", "strokeWidth": 1}, "encoding": {"y": {"datum": 0, "type": "quantitative", "scale": {"domain": [0, 1]}, "axis": null}}},
  {"width": 43, "height": 2, "data": {"values": [{"k": 1}]}, "mark": {"type": "rule", "color": "#7FA6D0", "strokeWidth": 1}, "encoding": {"y": {"datum": 0, "type": "quantitative", "scale": {"domain": [0, 1]}, "axis": null}}},
  {"width": 1, "height": 1, "data": {"values": []}, "mark": "point"},

  {"width": 1, "height": 32, "data": {"values": []}, "mark": "point"},
  {"width": 1, "height": 1, "data": {"values": []}, "mark": "point"},
  {"width": 1, "height": 1, "data": {"values": []}, "mark": "point"},
  {"width": 1, "height": 1, "data": {"values": []}, "mark": "point"},
  {"width": 1, "height": 1, "data": {"values": []}, "mark": "point"},
  {"width": 1, "height": 1, "data": {"values": []}, "mark": "point"},
  {"width": 1, "height": 1, "data": {"values": []}, "mark": "point"},
  {"width": 1, "height": 1, "data": {"values": []}, "mark": "point"},
  {"width": 1, "height": 1, "data": {"values": []}, "mark": "point"},

  {"width": 1, "height": 1, "data": {"values": []}, "mark": "point"},
  {"width": 1, "height": 1, "data": {"values": []}, "mark": "point"},
  {"width": 254, "height": 140, "data": {"name": "c3"},
   "layer": [
    {"mark": {"type": "bar"},
     "encoding": {
      "x": {"field": "m", "type": "ordinal", "scale": {"paddingInner": 0.3, "paddingOuter": 0.1}, "axis": {"title": null, "labelExpr": "substring(datum.value,5,7)=='01' ? substring(datum.value,0,4) : ''", "labelAngle": -20, "labelAlign": "right", "labelBaseline": "top", "ticks": false, "labelOverlap": false, "labelPadding": 5}},
      "y": {"field": "v", "type": "quantitative", "scale": {"domain": [0, 140000]}, "axis": {"orient": "left", "values": [0, 20000, 40000, 60000, 80000, 100000, 120000, 140000], "format": "d", "title": null, "tickSize": 4, "labelPadding": 8, "labelOverlap": false}},
      "fill": {"datum": "纺织品对美国出口金额（万美元）", "type": "nominal", "scale": {"range": ["#3A6DB3"]}, "legend": {"title": null, "orient": "none", "legendX": 21, "legendY": -31.5, "symbolType": "M-1,-0.2H1V0.2H-1Z", "symbolSize": 676, "symbolStrokeWidth": 0}}
     }},
    {"layer": [
      {"mark": {"type": "line", "strokeWidth": 1.5},
       "encoding": {
        "x": {"field": "m", "type": "ordinal"},
        "y": {"field": "r", "type": "quantitative", "scale": {"domain": [-0.4, 1.2]}, "axis": {"orient": "right", "values": [-0.4, -0.2, 0, 0.2, 0.4, 0.6, 0.8, 1, 1.2], "format": ".0%", "title": null, "tickSize": 3, "labelPadding": 4, "labelOverlap": false, "labelFlush": false}},
        "stroke": {"datum": "同比增长（次轴）", "type": "nominal", "scale": {"range": ["#C8161D"]}, "legend": {"title": null, "orient": "none", "legendX": 21, "legendY": -19.5, "symbolType": "stroke", "symbolSize": 676, "symbolStrokeWidth": 2}}
       }},
      {"data": {"values": [{"k": 1}]}, "mark": {"type": "rule", "color": "#C8161D", "strokeDash": [4, 3], "strokeWidth": 1.2}, "encoding": {"y": {"datum": 0, "type": "quantitative", "axis": null}}}
    ], "resolve": {"axis": {"y": "independent"}}}
   ],
   "resolve": {"scale": {"y": "independent"}}},
  {"width": 1, "height": 1, "data": {"values": []}, "mark": "point"},
  {"width": 1, "height": 1, "data": {"values": []}, "mark": "point"},
  {"width": 1, "height": 1, "data": {"values": []}, "mark": "point"},
  {"width": 252, "height": 140, "data": {"name": "c4"},
   "layer": [
    {"mark": {"type": "bar"},
     "encoding": {
      "x": {"field": "m", "type": "ordinal", "scale": {"paddingInner": 0.3, "paddingOuter": 0.1}, "axis": {"title": null, "labelExpr": "substring(datum.value,5,7)=='01' ? substring(datum.value,0,4) : ''", "labelAngle": -20, "labelAlign": "right", "labelBaseline": "top", "ticks": false, "labelOverlap": false, "labelPadding": 5}},
      "y": {"field": "v", "type": "quantitative", "scale": {"domain": [0, 450000]}, "axis": {"orient": "left", "values": [0, 50000, 100000, 150000, 200000, 250000, 300000, 350000, 400000, 450000], "format": "d", "title": null, "tickSize": 4, "labelPadding": 8, "labelOverlap": false}},
      "fill": {"datum": "服装对美国出口金额（万美元）", "type": "nominal", "scale": {"range": ["#3A6DB3"]}, "legend": {"title": null, "orient": "none", "legendX": 27, "legendY": -31.5, "symbolType": "M-1,-0.2H1V0.2H-1Z", "symbolSize": 676, "symbolStrokeWidth": 0}}
     }},
    {"layer": [
      {"mark": {"type": "line", "strokeWidth": 1.5},
       "encoding": {
        "x": {"field": "m", "type": "ordinal"},
        "y": {"field": "r", "type": "quantitative", "scale": {"domain": [-1, 2]}, "axis": {"orient": "right", "values": [-1, -0.5, 0, 0.5, 1, 1.5, 2], "format": ".0%", "title": null, "tickSize": 3, "labelPadding": 4, "labelOverlap": false, "labelFlush": false}},
        "stroke": {"datum": "同比增长（次轴）", "type": "nominal", "scale": {"range": ["#C8161D"]}, "legend": {"title": null, "orient": "none", "legendX": 27, "legendY": -19.5, "symbolType": "stroke", "symbolSize": 676, "symbolStrokeWidth": 2}}
       }},
      {"data": {"values": [{"k": 1}]}, "mark": {"type": "rule", "color": "#C8161D", "strokeDash": [4, 3], "strokeWidth": 1.2}, "encoding": {"y": {"datum": 0, "type": "quantitative", "axis": null}}}
    ], "resolve": {"axis": {"y": "independent"}}}
   ],
   "resolve": {"scale": {"y": "independent"}}},
  {"width": 1, "height": 1, "data": {"values": []}, "mark": "point"},
  {"width": 1, "height": 1, "data": {"values": []}, "mark": "point"},

  {"width": 1, "height": 43, "data": {"values": []}, "mark": "point"},
  {"width": 1, "height": 1, "data": {"values": []}, "mark": "point"},
  {"width": 1, "height": 1, "data": {"values": []}, "mark": "point"},
  {"width": 1, "height": 1, "data": {"values": []}, "mark": "point"},
  {"width": 1, "height": 1, "data": {"values": []}, "mark": "point"},
  {"width": 1, "height": 1, "data": {"values": []}, "mark": "point"},
  {"width": 1, "height": 1, "data": {"values": []}, "mark": "point"},
  {"width": 1, "height": 1, "data": {"values": []}, "mark": "point"},
  {"width": 1, "height": 1, "data": {"values": []}, "mark": "point"},

  {"width": 1, "height": 1, "data": {"values": []}, "mark": "point"},
  {"width": 65, "height": 2, "data": {"values": [{"k": 1}]}, "mark": {"type": "rule", "color": "#7FA6D0", "strokeWidth": 1}, "encoding": {"y": {"datum": 1, "type": "quantitative", "scale": {"domain": [0, 1]}, "axis": null}},
   "title": {"text": "资料来源：Wind，海关总署，华金证券研究所", "orient": "bottom", "anchor": "start", "dx": 3, "offset": 4, "fontSize": 10, "fontStyle": "italic", "fontWeight": "normal", "color": "#2E5FA6", "font": "Noto Sans CJK SC", "limit": 0}},
  {"width": 254, "height": 2, "data": {"values": [{"k": 1}]}, "mark": {"type": "rule", "color": "#7FA6D0", "strokeWidth": 1}, "encoding": {"y": {"datum": 1, "type": "quantitative", "scale": {"domain": [0, 1]}, "axis": null}}},
  {"width": 41, "height": 2, "data": {"values": [{"k": 1}]}, "mark": {"type": "rule", "color": "#7FA6D0", "strokeWidth": 1}, "encoding": {"y": {"datum": 1, "type": "quantitative", "scale": {"domain": [0, 1]}, "axis": null}}},
  {"width": 1, "height": 1, "data": {"values": []}, "mark": "point"},
  {"width": 65, "height": 2, "data": {"values": [{"k": 1}]}, "mark": {"type": "rule", "color": "#7FA6D0", "strokeWidth": 1}, "encoding": {"y": {"datum": 1, "type": "quantitative", "scale": {"domain": [0, 1]}, "axis": null}},
   "title": {"text": "资料来源：Wind，海关总署，华金证券研究所", "orient": "bottom", "anchor": "start", "dx": 3, "offset": 4, "fontSize": 10, "fontStyle": "italic", "fontWeight": "normal", "color": "#2E5FA6", "font": "Noto Sans CJK SC", "limit": 0}},
  {"width": 252, "height": 2, "data": {"values": [{"k": 1}]}, "mark": {"type": "rule", "color": "#7FA6D0", "strokeWidth": 1}, "encoding": {"y": {"datum": 1, "type": "quantitative", "scale": {"domain": [0, 1]}, "axis": null}}},
  {"width": 43, "height": 2, "data": {"values": [{"k": 1}]}, "mark": {"type": "rule", "color": "#7FA6D0", "strokeWidth": 1}, "encoding": {"y": {"datum": 1, "type": "quantitative", "scale": {"domain": [0, 1]}, "axis": null}}},
  {"width": 1, "height": 1, "data": {"values": []}, "mark": "point"},

  {"width": 1, "height": 197, "data": {"values": []}, "mark": "point"},
  {"width": 1, "height": 1, "data": {"values": []}, "mark": "point"},
  {"width": 1, "height": 1, "data": {"values": []}, "mark": "point"},
  {"width": 1, "height": 1, "data": {"values": []}, "mark": "point"},
  {"width": 1, "height": 1, "data": {"values": []}, "mark": "point"},
  {"width": 1, "height": 1, "data": {"values": []}, "mark": "point"},
  {"width": 1, "height": 1, "data": {"values": []}, "mark": "point"},
  {"width": 1, "height": 1, "data": {"values": []}, "mark": "point"},
  {"width": 1, "height": 1, "data": {"values": []}, "mark": "point"},

  {"width": 17, "height": 2, "data": {"values": [{"k": 1}]}, "mark": {"type": "rule", "color": "#5B9BD5", "strokeWidth": 2}, "encoding": {"y": {"datum": 1, "type": "quantitative", "scale": {"domain": [0, 1]}, "axis": null}},
   "title": {"text": "http://www.huajinsc.cn/5 / 23", "orient": "bottom", "anchor": "start", "dx": 20, "offset": 3, "font": "Liberation Sans", "fontSize": 11.5, "fontWeight": "normal", "color": "#111111", "limit": 0}},
  {"width": 65, "height": 2, "data": {"values": [{"k": 1}]}, "mark": {"type": "rule", "color": "#5B9BD5", "strokeWidth": 2}, "encoding": {"y": {"datum": 1, "type": "quantitative", "scale": {"domain": [0, 1]}, "axis": null}}},
  {"width": 254, "height": 2, "data": {"values": [{"k": 1}]}, "mark": {"type": "rule", "color": "#5B9BD5", "strokeWidth": 2}, "encoding": {"y": {"datum": 1, "type": "quantitative", "scale": {"domain": [0, 1]}, "axis": null}}},
  {"width": 41, "height": 2, "data": {"values": [{"k": 1}]}, "mark": {"type": "rule", "color": "#5B9BD5", "strokeWidth": 2}, "encoding": {"y": {"datum": 1, "type": "quantitative", "scale": {"domain": [0, 1]}, "axis": null}}},
  {"width": 15, "height": 2, "data": {"values": [{"k": 1}]}, "mark": {"type": "rule", "color": "#5B9BD5", "strokeWidth": 2}, "encoding": {"y": {"datum": 1, "type": "quantitative", "scale": {"domain": [0, 1]}, "axis": null}}},
  {"width": 65, "height": 2, "data": {"values": [{"k": 1}]}, "mark": {"type": "rule", "color": "#5B9BD5", "strokeWidth": 2}, "encoding": {"y": {"datum": 1, "type": "quantitative", "scale": {"domain": [0, 1]}, "axis": null}}},
  {"width": 252, "height": 2, "data": {"values": [{"k": 1}]}, "mark": {"type": "rule", "color": "#5B9BD5", "strokeWidth": 2}, "encoding": {"y": {"datum": 1, "type": "quantitative", "scale": {"domain": [0, 1]}, "axis": null}}},
  {"width": 43, "height": 2, "data": {"values": [{"k": 1}]}, "mark": {"type": "rule", "color": "#5B9BD5", "strokeWidth": 2}, "encoding": {"y": {"datum": 1, "type": "quantitative", "scale": {"domain": [0, 1]}, "axis": null}}},
  {"width": 13, "height": 2, "data": {"values": [{"k": 1}]}, "mark": {"type": "rule", "color": "#5B9BD5", "strokeWidth": 2}, "encoding": {"y": {"datum": 1, "type": "quantitative", "scale": {"domain": [0, 1]}, "axis": null}},
   "title": {"text": "请务必阅读正文之后的免责条款部分", "orient": "bottom", "anchor": "end", "dx": -13, "offset": 3, "font": "Noto Sans CJK SC", "fontSize": 12.5, "fontWeight": "normal", "color": "#333333", "limit": 0}}
],
"config": {
  "font": "Noto Sans CJK SC",
  "view": {"stroke": null},
  "axis": {"labelFont": "Liberation Sans", "labelFontSize": 11, "labelColor": "#000000", "domainColor": "#A6A6A6", "tickColor": "#A6A6A6", "grid": false},
  "legend": {"labelFont": "Noto Sans CJK SC", "labelFontSize": 10, "labelColor": "#111111", "padding": 0, "labelOffset": 4, "labelLimit": 400},
  "locale": {"number": {"decimal": ".", "thousands": ",", "grouping": [3], "currency": ["", ""], "minus": "-"}}
}
}
